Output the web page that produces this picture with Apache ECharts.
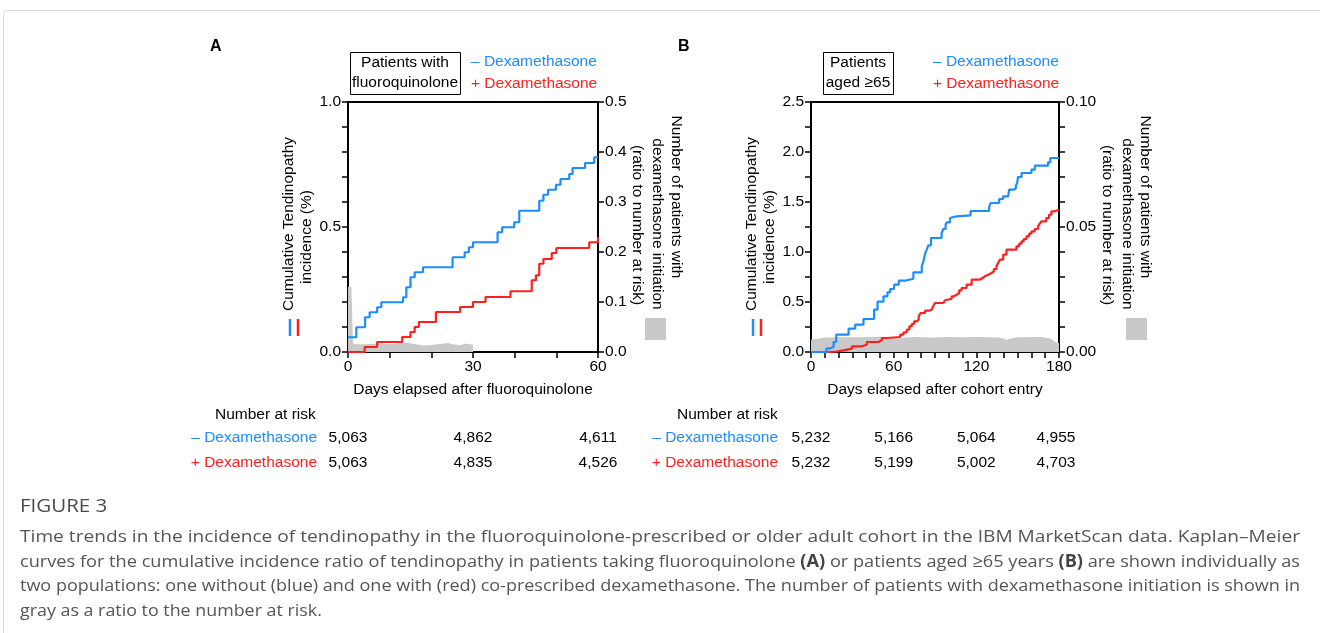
<!DOCTYPE html>
<html><head><meta charset="utf-8">
<script src="https://cdn.jsdelivr.net/npm/echarts@6/dist/echarts.min.js"></script>
<style>html,body{margin:0;padding:0;background:#fff}#c{width:1320px;height:633px}</style>
</head><body><div id="c"></div>
<script>
// ---------- data ----------
const ticksLabelA = [0, 30, 60];
const ticksLabelB = [0, 60, 120, 180];
const blueA = [[0,0.059],[2,0.099],[4.1,0.139],[5.2,0.159],[7,0.179],[8,0.199],[13.2,0.219],[14,0.259],[15,0.299],[16,0.319],[18,0.339],[25.1,0.379],[28,0.399],[29,0.419],[30,0.439],[35.9,0.479],[37,0.499],[39.9,0.519],[41.1,0.565],[45.9,0.605],[46.9,0.629],[48,0.649],[49.9,0.669],[51,0.692],[53.1,0.712],[53.9,0.736],[56.9,0.756],[59.1,0.779],[60,0.779]];
const redA = [[0,0],[4,0.02],[7,0.04],[13,0.06],[15,0.08],[16,0.10],[17,0.12],[21.1,0.16],[26.9,0.18],[30,0.20],[33,0.22],[39,0.243],[44.1,0.287],[45.1,0.307],[45.9,0.353],[46.9,0.372],[48.9,0.396],[50,0.416],[57.9,0.439],[60,0.459]];
const grayA = [[0,0.13],[0.8,0.13],[1.2,0.017],[3,0.015],[5,0.016],[8,0.017],[10,0.016],[12,0.017],[14,0.019],[16,0.016],[18,0.013],[20,0.014],[22,0.016],[24,0.018],[25.5,0.015],[27,0.014],[28.5,0.017],[29.5,0.015],[30,0.015],[30.01,0]];
const blueB = [[0,0],[11.1,0.033],[12.8,0.05],[16.4,0.10],[18.3,0.173],[27.3,0.233],[32.1,0.273],[38.1,0.33],[45.8,0.423],[48.3,0.503],[52.6,0.557],[55.5,0.597],[57.4,0.63],[60.3,0.673],[63.7,0.713],[68.3,0.733],[74.3,0.797],[80.4,0.857],[81.6,0.907],[82.8,0.983],[84.0,1.023],[85.2,1.067],[87.1,1.14],[94.8,1.19],[96.0,1.23],[97.7,1.273],[98.5,1.297],[100.9,1.34],[102.1,1.357],[105.7,1.367],[115.8,1.41],[129.3,1.45],[130.3,1.49],[136.6,1.53],[139.5,1.557],[143.1,1.573],[143.8,1.623],[146.7,1.633],[148.6,1.657],[149.6,1.69],[150.3,1.75],[152.8,1.79],[160.0,1.823],[162.4,1.863],[172.1,1.897],[173.7,1.94],[180,1.94]];
const redB = [[0,0],[13,0.005],[18.8,0.017],[23.6,0.033],[29.7,0.057],[36.9,0.073],[40.5,0.10],[49.0,0.117],[51.4,0.14],[55.0,0.15],[64.7,0.173],[67.1,0.197],[69.5,0.223],[71.4,0.257],[73.1,0.28],[74.8,0.307],[76.7,0.323],[78.2,0.357],[79.6,0.39],[82.8,0.413],[85.2,0.423],[87.6,0.44],[88.8,0.463],[90.0,0.49],[96.0,0.497],[97.3,0.517],[98.5,0.533],[102.1,0.557],[103.8,0.573],[105.7,0.59],[107.6,0.617],[109.3,0.64],[112.9,0.673],[116.6,0.723],[122.6,0.74],[124.5,0.757],[126.2,0.773],[128.6,0.79],[131.0,0.807],[132.7,0.83],[134.6,0.857],[135.8,0.89],[137.1,0.923],[139.5,0.973],[141.9,1.023],[149.1,1.057],[151.1,1.083],[152.8,1.107],[154.4,1.13],[156.4,1.157],[158.3,1.183],[160.0,1.207],[162.4,1.23],[164.8,1.257],[166.0,1.283],[167.2,1.307],[170.8,1.34],[172.8,1.373],[174.5,1.407],[176.9,1.423],[180,1.423]];
const grayB = [[0,0.0050],[5,0.0053],[10,0.0058],[20,0.0059],[30,0.0059],[40,0.0060],[50,0.0061],[56,0.0058],[62,0.0053],[68,0.0058],[75,0.0060],[90,0.0058],[100,0.0060],[110,0.0059],[120,0.0060],[130,0.0059],[137,0.0058],[142,0.0049],[148,0.0058],[160,0.0060],[168,0.0060],[174,0.0053],[178,0.0038],[180,0.0036]];
const riskDaysA = [0, 30, 60];
const riskMinusA = ['5,063', '4,862', '4,611'];
const riskPlusA = ['5,063', '4,835', '4,526'];
const riskDaysB = [0, 60, 120, 180];
const riskMinusB = ['5,232', '5,166', '5,064', '4,955'];
const riskPlusB = ['5,232', '5,199', '5,002', '4,703'];
const captionLines = [
  'Time trends in the incidence of tendinopathy in the fluoroquinolone-prescribed or older adult cohort in the IBM MarketScan data. Kaplan\u2013Meier',
  'curves for the cumulative incidence ratio of tendinopathy in patients taking fluoroquinolone {b|(A)} or patients aged \u226565 years {b|(B)} are shown individually as',
  'two populations: one without (blue) and one with (red) co-prescribed dexamethasone. The number of patients with dexamethasone initiation is shown in',
  'gray as a ratio to the number at risk.'
];

// ---------- style ----------
const F = 'Liberation Sans, Arial, Helvetica, sans-serif';
const CF = 'Open Sans, Lato, sans-serif';
const BLUE = '#1c8cff', RED = '#ff1f1f', GRAY = '#c9c9c9';
const FS = 15.5;
const CAP_FS = 17;

const chart = echarts.init(document.getElementById('c'), null, {renderer: 'canvas'});

function isMul(v, s) { return Math.abs(v / s - Math.round(v / s)) < 1e-6; }
function xAx(gi, max, labels) {
  return {type: 'value', gridIndex: gi, min: 0, max: max, interval: 10,
    axisLine: {lineStyle: {color: '#000', width: 2}},
    axisTick: {length: 6, lineStyle: {color: '#000', width: 1.5}},
    axisLabel: {color: '#000', fontSize: FS, fontFamily: F, margin: 7,
      formatter: v => labels.some(l => Math.abs(l - v) < 1e-6) ? String(Math.round(v)) : ''},
    splitLine: {show: false}};
}
function yAx(gi, pos, max, interval, labelStep, dec) {
  return {type: 'value', gridIndex: gi, position: pos, min: 0, max: max, interval: interval,
    axisLine: {show: true, lineStyle: {color: '#000', width: 2}},
    axisTick: {show: true, length: 6, lineStyle: {color: '#000', width: 1.5}},
    axisLabel: {color: '#000', fontSize: FS, fontFamily: F, margin: 7,
      formatter: v => isMul(v, labelStep) ? v.toFixed(dec) : ''},
    splitLine: {show: false}};
}
function stepLine(data, color, xi, yi) {
  return {type: 'line', step: 'end', data: data, xAxisIndex: xi, yAxisIndex: yi, symbol: 'none',
    lineStyle: {color: color, width: 2.2}, z: 3, animation: false};
}
function areaS(data, xi, yi) {
  return {type: 'line', data: data, xAxisIndex: xi, yAxisIndex: yi, symbol: 'none',
    lineStyle: {width: 0, color: GRAY}, areaStyle: {color: GRAY, opacity: 1}, z: 1, animation: false};
}

chart.setOption({
  animation: false,
  backgroundColor: '#fff',
  grid: [
    {left: 348, top: 102, width: 250, height: 250, show: true, borderColor: '#000', borderWidth: 2, backgroundColor: 'transparent'},
    {left: 811, top: 102, width: 248, height: 250, show: true, borderColor: '#000', borderWidth: 2, backgroundColor: 'transparent'}
  ],
  xAxis: [xAx(0, 60, ticksLabelA), xAx(1, 180, ticksLabelB)],
  yAxis: [
    yAx(0, 'left', 1.0, 0.1, 0.5, 1),
    yAx(0, 'right', 0.5, 0.1, 0.1, 1),
    yAx(1, 'left', 2.5, 0.25, 0.5, 1),
    yAx(1, 'right', 0.10, 0.01, 0.05, 2)
  ],
  series: [
    areaS(grayA, 0, 1),
    stepLine(redA, RED, 0, 0),
    stepLine(blueA, BLUE, 0, 0),
    areaS(grayB, 1, 3),
    stepLine(redB, RED, 1, 2),
    stepLine(blueB, BLUE, 1, 2)
  ]
});

function T(x, y, text, o) {
  o = o || {};
  return {type: 'text', x: x, y: y, rotation: o.rot || 0, scaleX: o.sx || 1, z: 10,
    style: {text: text, fill: o.color || '#000', font: (o.weight || 'normal') + ' ' + (o.size || FS) + 'px ' + (o.family || F),
      align: o.align || 'left', verticalAlign: 'middle', rich: o.rich}};
}
// measure a caption line (with {b|...} bold parts) at natural size
const mctx = document.createElement('canvas').getContext('2d');
function capWidth(line) {
  let w = 0;
  const re = /\{b\|([^}]*)\}/g;
  let last = 0, m;
  while ((m = re.exec(line)) !== null) {
    mctx.font = 'normal ' + CAP_FS + 'px ' + CF; w += mctx.measureText(line.slice(last, m.index)).width;
    mctx.font = 'bold ' + CAP_FS + 'px ' + CF; w += mctx.measureText(m[1]).width;
    last = re.lastIndex;
  }
  mctx.font = 'normal ' + CAP_FS + 'px ' + CF; w += mctx.measureText(line.slice(last)).width;
  return w;
}

const g = [];
// frame
g.push({type: 'rect', shape: {x: 3.5, y: 10.5, width: 1400, height: 700, r: 4}, style: {fill: 'none', stroke: '#d9d9d9', lineWidth: 1}, z: 0});
// panel letters
g.push(T(210, 47, 'A', {weight: 'bold', size: 16}));
g.push(T(678, 47, 'B', {weight: 'bold', size: 16}));
// legend boxes
g.push({type: 'rect', shape: {x: 350.5, y: 52.5, width: 110, height: 42}, style: {fill: 'none', stroke: '#000', lineWidth: 1}});
g.push(T(405, 63, 'Patients with', {align: 'center'}));
g.push(T(405, 83, 'fluoroquinolone', {align: 'center'}));
g.push(T(471, 62, '\u2013 Dexamethasone', {color: BLUE}));
g.push(T(471, 84, '+ Dexamethasone', {color: RED}));
g.push({type: 'rect', shape: {x: 823.5, y: 52.5, width: 70, height: 42}, style: {fill: 'none', stroke: '#000', lineWidth: 1}});
g.push(T(858, 63, 'Patients', {align: 'center'}));
g.push(T(858, 83, 'aged \u226565', {align: 'center'}));
g.push(T(933, 62, '\u2013 Dexamethasone', {color: BLUE}));
g.push(T(933, 84, '+ Dexamethasone', {color: RED}));
// left axis titles + marks
[[289, 307], [752, 770]].forEach(([x1, x2]) => {
  g.push(T(x1, 224, 'Cumulative Tendinopathy', {rot: Math.PI / 2, align: 'center'}));
  g.push(T(x2, 237, 'incidence (%)', {rot: Math.PI / 2, align: 'center'}));
  g.push({type: 'line', shape: {x1: x1 + 1, y1: 319, x2: x1 + 1, y2: 336}, style: {stroke: BLUE, lineWidth: 2.5}});
  g.push({type: 'line', shape: {x1: x1 + 9, y1: 319, x2: x1 + 9, y2: 336}, style: {stroke: RED, lineWidth: 2.5}});
});
// right axis titles + gray squares
[[676, 657, 637, 645], [1145, 1127, 1107, 1126]].forEach(([a, b, c, s]) => {
  g.push(T(a, 197, 'Number of patients with', {rot: -Math.PI / 2, align: 'center'}));
  g.push(T(b, 224, 'dexamethasone initiation', {rot: -Math.PI / 2, align: 'center'}));
  g.push(T(c, 225, '(ratio to number at risk)', {rot: -Math.PI / 2, align: 'center'}));
  g.push({type: 'rect', shape: {x: s, y: 318, width: 21, height: 22}, style: {fill: GRAY}});
});
// x axis titles
g.push(T(473, 390, 'Days elapsed after fluoroquinolone', {align: 'center'}));
g.push(T(935, 390, 'Days elapsed after cohort entry', {align: 'center'}));
// number at risk
g.push(T(215, 415, 'Number at risk'));
g.push(T(317, 438, '\u2013 Dexamethasone', {color: BLUE, align: 'right'}));
g.push(T(317, 463, '+ Dexamethasone', {color: RED, align: 'right'}));
g.push(T(677, 415, 'Number at risk'));
g.push(T(778, 438, '\u2013 Dexamethasone', {color: BLUE, align: 'right'}));
g.push(T(778, 463, '+ Dexamethasone', {color: RED, align: 'right'}));
riskDaysA.forEach((d, i) => {
  const px = chart.convertToPixel({xAxisIndex: 0}, d);
  g.push(T(px, 438, riskMinusA[i], {align: 'center'}));
  g.push(T(px, 463, riskPlusA[i], {align: 'center'}));
});
riskDaysB.forEach((d, i) => {
  const px = chart.convertToPixel({xAxisIndex: 1}, d) - (i === riskDaysB.length - 1 ? 3 : 0);
  g.push(T(px, 438, riskMinusB[i], {align: 'center'}));
  g.push(T(px, 463, riskPlusB[i], {align: 'center'}));
});
// caption (justified lines: each full line stretched to the text width)
g.push(T(20, 507, 'FIGURE 3', {size: 18, color: '#4a4a4a', family: CF, sx: 1.14}));
const CAP_W = 1280;
captionLines.forEach((ln, i) => {
  const last = i === captionLines.length - 1;
  const sx = last ? 1.05 : CAP_W / capWidth(ln);
  g.push(T(20, 537 + i * 24.7, ln, {size: CAP_FS, color: '#555', family: CF, sx: sx,
    rich: {b: {fontWeight: 'bold', fontSize: CAP_FS, fontFamily: CF, fill: '#444'}}}));
});
chart.setOption({graphic: {elements: g}});
</script>
</body></html>
